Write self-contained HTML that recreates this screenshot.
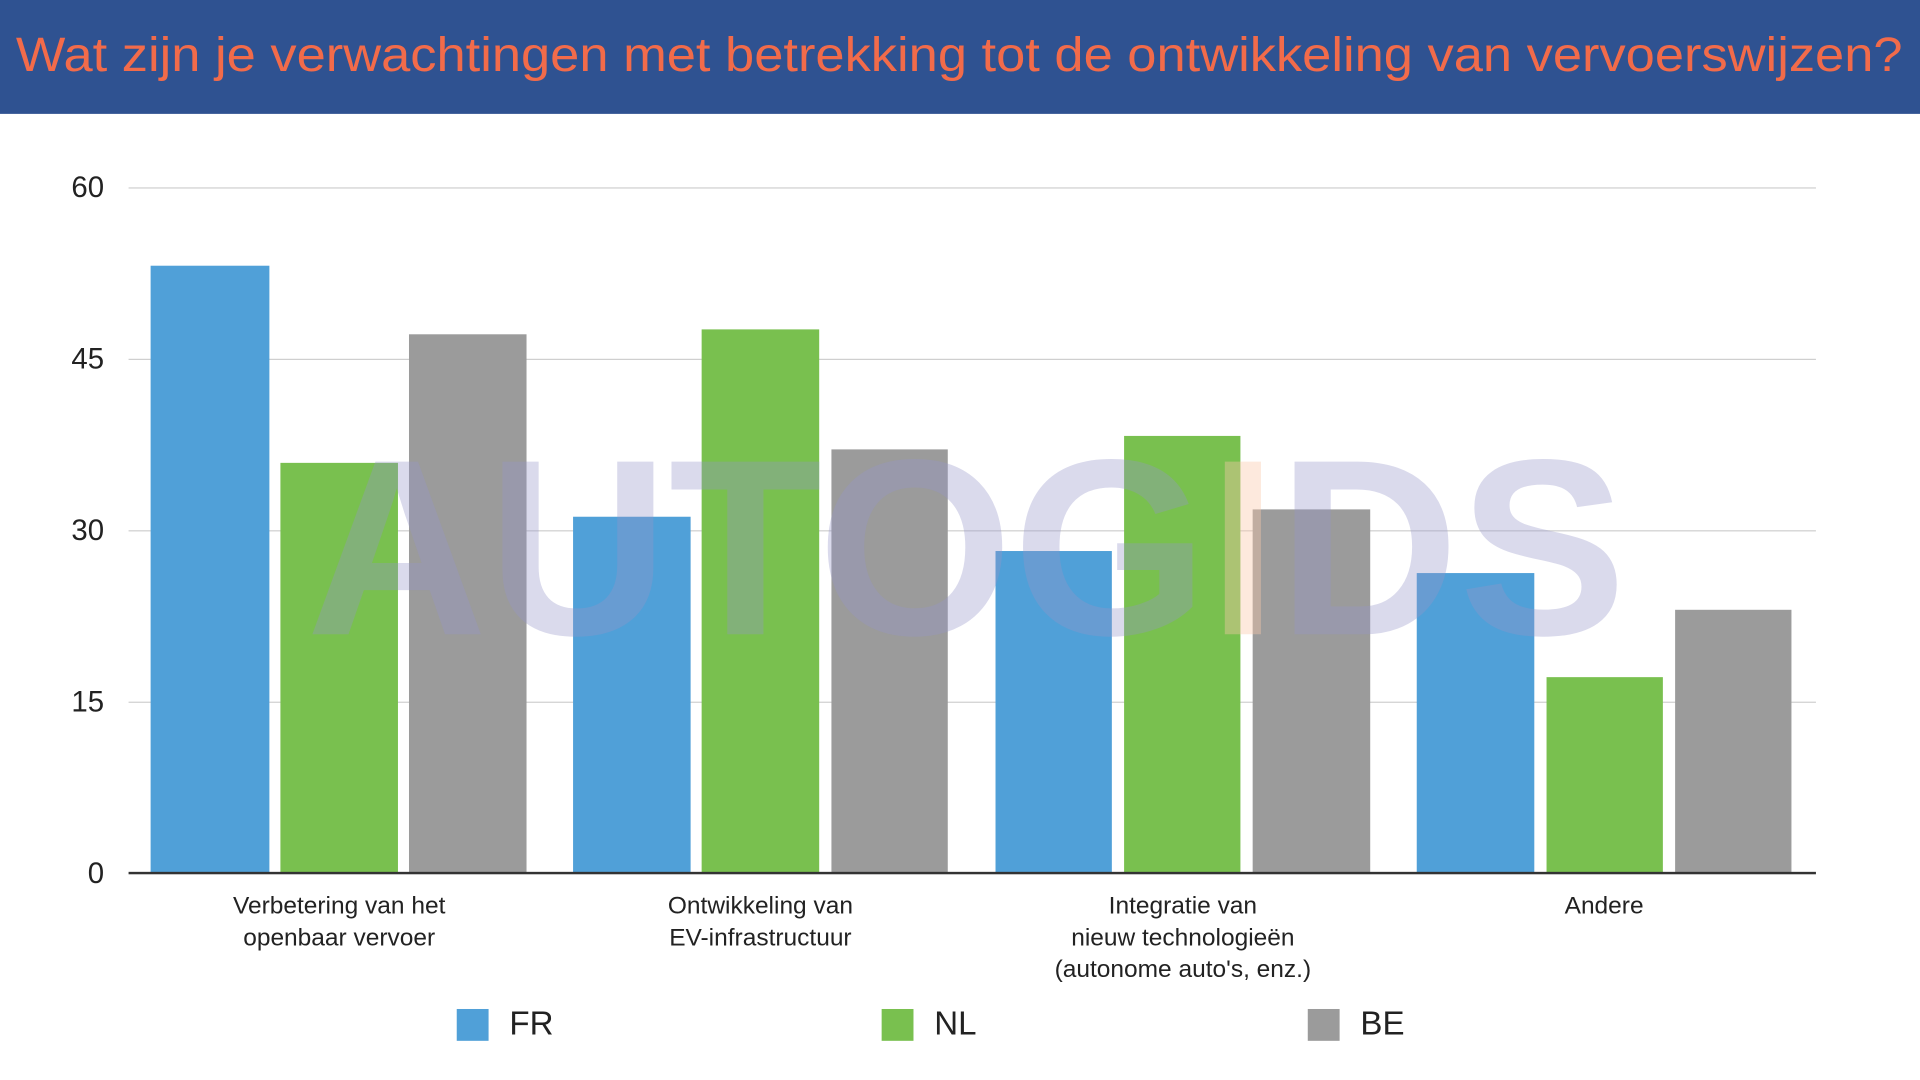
<!DOCTYPE html>
<html><head><meta charset="utf-8"><style>
html,body{margin:0;padding:0;background:#fff;overflow:hidden}
#w{position:absolute;left:0;top:0;width:1568px;height:882px;transform:scale(1.2245);transform-origin:0 0;font-family:"Liberation Sans",sans-serif;background:#fff}
.hd{position:absolute;left:0;top:0;width:1568px;height:93px;background:#2f5291}
.tt{position:absolute;left:13px;top:24px;font-size:39px;color:#f26b4a;white-space:nowrap;transform:scaleX(1.098);transform-origin:0 0}
.g{position:absolute;left:105px;width:1378px;height:1px;background:#cfcfcf}
.yl{position:absolute;width:60px;left:25px;text-align:right;font-size:24px;color:#222}
.b{position:absolute}
.f{background:#50a0d8}.n{background:#79c04f}.e{background:#9b9b9b}
.cl{position:absolute;width:300px;text-align:center;font-size:20px;line-height:26px;color:#222}
.lg{position:absolute;top:824px;width:26px;height:26px}
.lt{position:absolute;top:821px;font-size:27px;color:#222}
.wm{position:absolute;left:250px;top:330px;font-size:205px;font-weight:bold;color:rgba(150,150,200,0.35);white-space:nowrap;letter-spacing:0px}
</style></head><body><div id="w">
<div class="hd"></div>
<div class="tt">Wat zijn je verwachtingen met betrekking tot de ontwikkeling van vervoerswijzen?</div>
<div class="g" style="top:153px"></div><div class="g" style="top:293px"></div><div class="g" style="top:433px"></div><div class="g" style="top:573px"></div>
<div class="yl" style="top:140px">60</div><div class="yl" style="top:280px">45</div><div class="yl" style="top:420px">30</div><div class="yl" style="top:560px">15</div><div class="yl" style="top:700px">0</div>
<div class="b f" style="left:123px;top:217px;width:97px;height:496px"></div>
<div class="b n" style="left:229px;top:378px;width:96px;height:335px"></div>
<div class="b e" style="left:334px;top:273px;width:96px;height:440px"></div>
<div class="b f" style="left:468px;top:422px;width:96px;height:291px"></div>
<div class="b n" style="left:573px;top:269px;width:96px;height:444px"></div>
<div class="b e" style="left:679px;top:367px;width:95px;height:346px"></div>
<div class="b f" style="left:813px;top:450px;width:95px;height:263px"></div>
<div class="b n" style="left:918px;top:356px;width:95px;height:357px"></div>
<div class="b e" style="left:1023px;top:416px;width:96px;height:297px"></div>
<div class="b f" style="left:1157px;top:468px;width:96px;height:245px"></div>
<div class="b n" style="left:1263px;top:553px;width:95px;height:160px"></div>
<div class="b e" style="left:1368px;top:498px;width:95px;height:215px"></div>
<div class="wm">AUTOG<span style="color:rgba(250,200,170,0.4)">I</span>DS</div>
<div class="g" style="top:712px;height:2px;background:#333"></div>
<div class="cl" style="left:127px;top:727px">Verbetering van het<br>openbaar vervoer</div>
<div class="cl" style="left:471px;top:727px">Ontwikkeling van<br>EV-infrastructuur</div>
<div class="cl" style="left:816px;top:727px">Integratie van<br>nieuw technologieën<br>(autonome auto's, enz.)</div>
<div class="cl" style="left:1160px;top:727px">Andere</div>
<div class="lg f" style="left:373px"></div><div class="lt" style="left:416px">FR</div>
<div class="lg n" style="left:720px"></div><div class="lt" style="left:763px">NL</div>
<div class="lg e" style="left:1068px"></div><div class="lt" style="left:1111px">BE</div>
</div></body></html>
